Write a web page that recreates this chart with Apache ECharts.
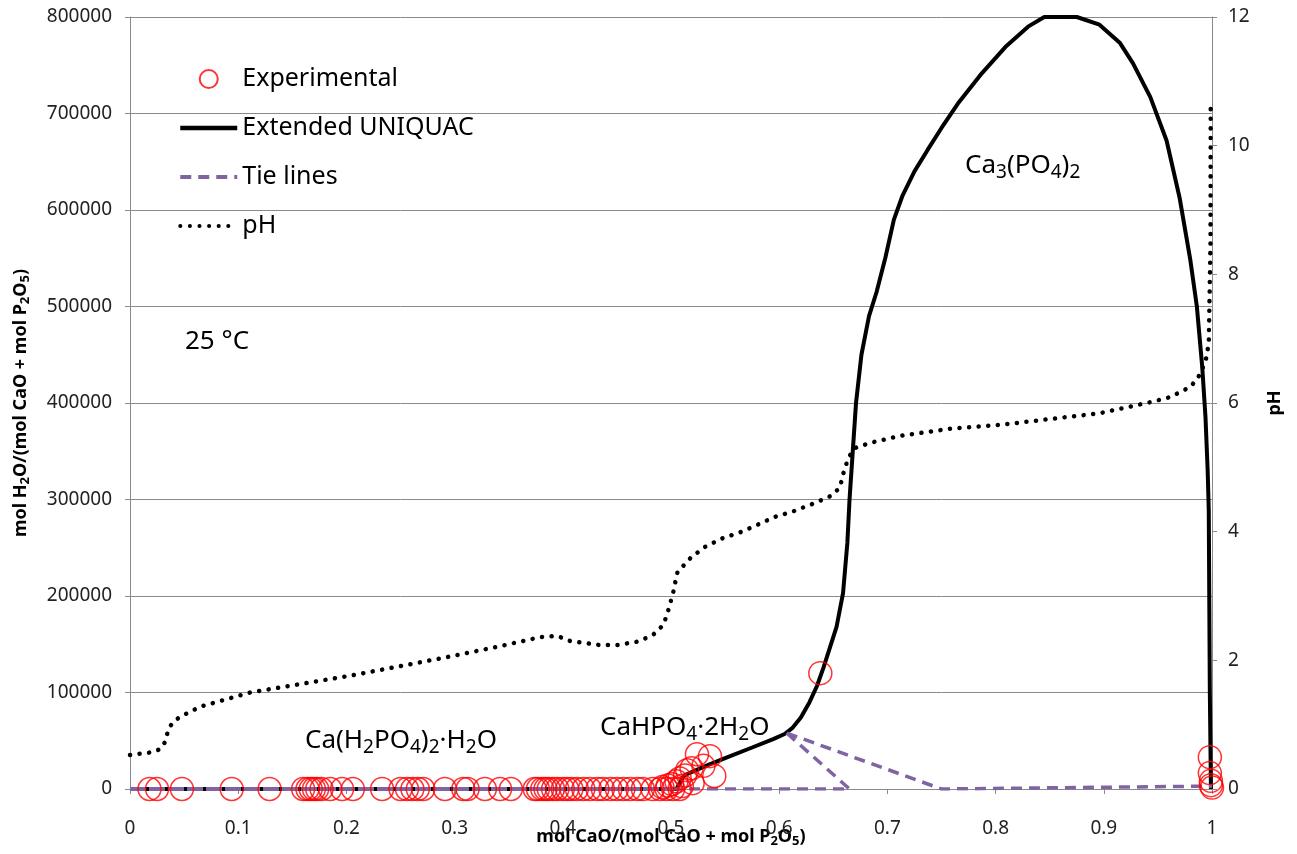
<!DOCTYPE html>
<html>
<head>
<meta charset="utf-8">
<script src="https://cdn.jsdelivr.net/npm/echarts@6/dist/echarts.min.js"></script>
<style>html,body{margin:0;padding:0;background:#fff;overflow:hidden;}#c{width:1297px;height:854px;}</style>
</head>
<body>
<div id="c"></div>
<script>
// ---- Data ----
const expX = [0.018,0.025,0.048,0.094,0.129,0.160,0.164,0.167,0.170,0.173,0.177,0.185,0.196,0.206,0.233,0.250,0.256,0.261,0.266,0.271,0.291,0.308,0.312,0.328,0.342,0.352,0.374,0.377,0.381,0.384,0.387,0.391,0.395,0.400,0.404,0.408,0.413,0.419,0.425,0.432,0.437,0.444,0.450,0.456,0.462,0.469,0.474,0.483,0.490,0.496,0.502,0.508,
  0.492,0.497,0.501,0.505,0.508,0.513,0.515,0.519,0.524,0.536,0.540,0.530,0.510,0.520,
  0.638,
  0.998,0.998,0.999,0.999,1.000];
const expY = [0,0,0,0,0,0,0,0,0,0,0,0,0,0,0,0,0,0,0,0,0,0,0,0,0,0,0,0,0,0,0,0,0,0,0,0,0,0,0,0,0,0,0,0,0,0,0,0,0,0,0,0,
  2000,3500,5000,8000,11000,14000,19500,21500,36000,34000,13500,24000,3000,6000,
  120000,
  33000,16500,8500,4000,1500];

const uniX = [0,0.5,0.505,0.512,0.53,0.55,0.575,0.595,0.605,0.612,0.62,0.628,0.635,0.641,0.647,0.653,0.659,0.663,0.665,0.668,0.671,0.676,0.683,0.69,0.698,0.706,0.714,0.725,0.737,0.75,0.765,0.786,0.81,0.83,0.845,0.875,0.896,0.915,0.927,0.943,0.958,0.97,0.98,0.986,0.991,0.994,0.996,0.997,0.998,0.999];
const uniY = [0,0,0,14000,23000,32000,43000,52000,57000,63000,74000,90000,107000,126000,147000,168000,203000,255000,300000,350000,400000,450000,490000,515000,550000,590000,615000,640000,662000,685000,710000,740000,770000,790000,800000,800000,792000,773000,752000,717000,672000,613000,548000,500000,437000,385000,330000,289000,100000,0];

const tieSolidX = [0,0.5];
const tieSolidY = [0,0];
const tieX = [0.5,0.665,null,0.607,0.665,null,0.607,0.75,1.0];
const tieY = [0,0,null,58000,0,null,58000,0,3000];

const phX = [0,0.02,0.028,0.032,0.036,0.04,0.046,0.065,0.111,0.157,0.203,0.25,0.296,0.342,0.379,0.395,0.407,0.433,0.451,0.469,0.483,0.493,0.497,0.502,0.504,0.506,0.518,0.531,0.548,0.564,0.579,0.596,0.612,0.635,0.647,0.656,0.66,0.664,0.670,0.684,0.712,0.758,0.804,0.850,0.896,0.945,0.961,0.980,0.987,0.994,0.997,0.9986,0.9988];
const phY = [0.53,0.57,0.62,0.72,0.95,1.04,1.12,1.28,1.50,1.63,1.76,1.91,2.06,2.22,2.36,2.38,2.30,2.24,2.24,2.29,2.39,2.55,2.75,3.05,3.22,3.37,3.59,3.76,3.90,3.99,4.10,4.23,4.31,4.46,4.55,4.68,4.95,5.15,5.30,5.38,5.49,5.60,5.66,5.75,5.84,6.02,6.09,6.25,6.39,6.64,6.93,8.5,10.6];

const xTicks = {min:0, max:1, interval:0.1};
const yTicks = {min:0, max:800000, interval:100000};
const phTicks = {min:0, max:12, interval:2};

// ---- Chart ----
const FONT = 'Noto Sans';
const pair = (xs, ys) => xs.map((x,i) => (x === null ? [null, null] : [x, ys[i]]));
const chart = echarts.init(document.getElementById('c'), null, {renderer:'canvas'});
const subRich = (size, bold) => {
  const lh = Math.round(size*1.25);
  const ss = Math.round(size*0.72);
  const pad = Math.round(size*0.52);
  const w = bold ? 'bold' : 'normal';
  return {
    n: {fontSize:size, fontFamily:FONT, fontWeight:w, color:'#000', lineHeight:lh},
    s: {fontSize:ss, fontFamily:FONT, fontWeight:w, color:'#000', lineHeight:lh-pad, padding:[pad,0,0,0]}
  };
};
const gridColor = '#8a8a8a';
const clear = 'rgba(0,0,0,0)';
chart.setOption({
  animation: false,
  backgroundColor: '#fff',
  grid: {left:130, width:1082, top:17, height:772, containLabel:false, outerBoundsMode:'none'},
  legend: {
    orient:'vertical', left:178, top:64, itemWidth:57, itemHeight:18, itemGap:19, padding:0,
    textStyle:{fontSize:25, fontFamily:FONT, color:'#000', lineHeight:30},
    data:[
      {name:'Experimental'},
      {name:'Extended UNIQUAC', lineStyle:{width:4.5}},
      {name:'Tie lines', lineStyle:{width:4}},
      {name:'pH', lineStyle:{width:4}}
    ]
  },
  xAxis: {
    type:'value', min:xTicks.min, max:xTicks.max, interval:xTicks.interval,
    axisLine:{show:true, onZero:false, lineStyle:{color:gridColor, width:1}},
    axisTick:{show:true, length:5, lineStyle:{color:gridColor}},
    splitLine:{show:false},
    axisLabel:{margin:30, fontSize:19, fontFamily:FONT, color:'#222', formatter: v => String(+v.toFixed(1))},
    name:'{n|mol CaO/(mol CaO + mol P}{s|2}{n|O}{s|5}{n|)}',
    nameLocation:'middle', nameGap:36, nameMoveOverlap:false,
    nameTextStyle:{rich: subRich(18, true)}
  },
  yAxis: [{
    type:'value', min:yTicks.min, max:yTicks.max, interval:yTicks.interval,
    axisLine:{show:true, lineStyle:{color:gridColor, width:1}},
    axisTick:{show:true, length:5, lineStyle:{color:gridColor}},
    splitLine:{show:true, lineStyle:{color:gridColor, width:1}},
    axisLabel:{margin:18, fontSize:19, fontFamily:FONT, color:'#222', formatter: v => String(v)},
    name:'{n|mol H}{s|2}{n|O/(mol CaO + mol P}{s|2}{n|O}{s|5}{n|)}',
    nameLocation:'middle', nameGap:98, nameRotate:90,
    nameTextStyle:{rich: subRich(18, true)}
  },{
    type:'value', position:'right', min:phTicks.min, max:phTicks.max, interval:phTicks.interval,
    axisLine:{show:true, lineStyle:{color:gridColor, width:1}},
    axisTick:{show:true, length:5, lineStyle:{color:gridColor}},
    splitLine:{show:false},
    axisLabel:{margin:16, fontSize:19, fontFamily:FONT, color:'#222'},
    name:'pH', nameLocation:'middle', nameGap:54, nameRotate:90,
    nameTextStyle:{fontSize:18, fontWeight:'bold', fontFamily:FONT, color:'#000'}
  }],
  series: [
    {
      name:'Extended UNIQUAC', type:'line', z:2, symbol:'none', showSymbol:false,
      data: pair(uniX, uniY),
      itemStyle:{color:clear, borderWidth:0},
      lineStyle:{color:'#000', width:4}
    },
    {
      name:'Tie lines', type:'line', z:3, symbol:'none', showSymbol:false, connectNulls:false,
      data: pair(tieX, tieY),
      itemStyle:{color:clear, borderWidth:0},
      lineStyle:{color:'#8064A2', width:3.5, type:[11,7]}
    },
    {
      name:'Tie lines', type:'line', z:3, symbol:'none', showSymbol:false,
      data: pair(tieSolidX, tieSolidY),
      itemStyle:{color:clear, borderWidth:0},
      lineStyle:{color:'#8064A2', width:4, type:[16,3]}
    },
    {
      name:'pH', type:'line', yAxisIndex:1, z:2, symbol:'none', showSymbol:false,
      data: pair(phX, phY),
      itemStyle:{color:clear, borderWidth:0},
      lineStyle:{color:'#000', width:4.5, type:[0.1,9.5], cap:'round'}
    },
    {
      name:'Experimental', type:'scatter', z:5, symbol:'circle', symbolSize:23,
      data: pair(expX, expY),
      itemStyle:{color:clear, borderColor:'#ff0000', borderWidth:1.5}
    }
  ],
  graphic: [
    {type:'text', left:965, top:149, style:{text:'{n|Ca}{s|3}{n|(PO}{s|4}{n|)}{s|2}', rich: subRich(26,false)}},
    {type:'text', left:185, top:329, style:{text:'{n|25 °C}', rich: subRich(26,false)}},
    {type:'text', left:305, top:724, style:{text:'{n|Ca(H}{s|2}{n|PO}{s|4}{n|)}{s|2}{n|·H}{s|2}{n|O}', rich: subRich(26,false)}},
    {type:'text', left:600, top:711, style:{text:'{n|CaHPO}{s|4}{n|·2H}{s|2}{n|O}', rich: subRich(26,false)}}
  ]
});
</script>
</body>
</html>
